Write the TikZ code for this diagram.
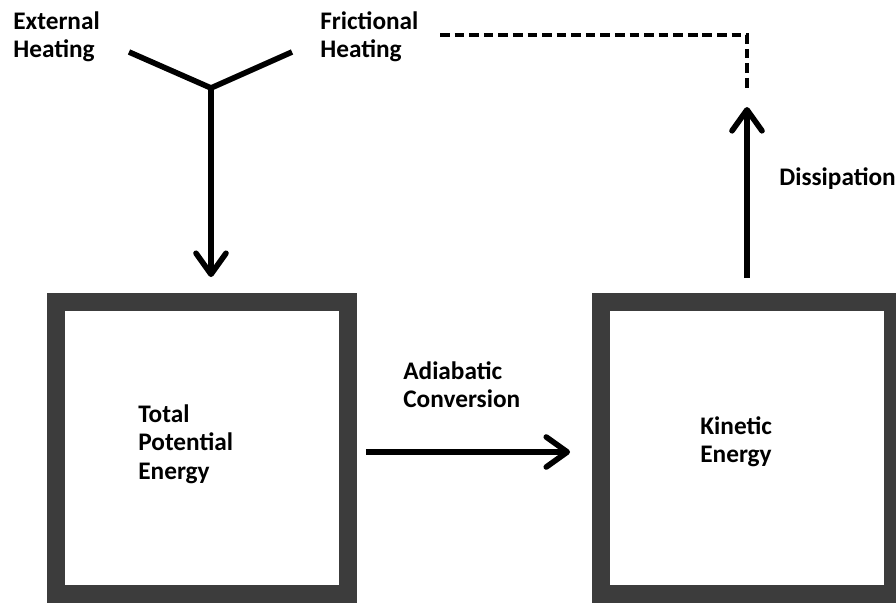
\documentclass[tikz,border=0pt]{standalone}
\usepackage{fontspec}
\setmainfont{Carlito}
\usepackage{tikz}
\usetikzlibrary{arrows.meta}
\usetikzlibrary{positioning}
\definecolor{boxgray}{HTML}{3C3C3C}
\tikzstyle{energybox} = [rectangle, draw=boxgray, fill=white, line width=10.2pt, minimum width=5.84cm, minimum height=5.84cm]
\tikzstyle{txt} = [inner sep=0pt, anchor=north west, align=left, font=\bfseries\fontsize{14.4}{16.4}\selectfont]
\tikzstyle{arrow} = [line width=3.2pt, -{Straight Barb[length=0.42cm, width=0.6cm, round]}]
\tikzstyle{dashline} = [line width=2.8pt, dash pattern=on 5.5pt off 2.8pt]

\begin{document}
\begin{tikzpicture}[x=0.02cm, y=-0.02cm]
        \useasboundingbox[fill=white] (0,0) rectangle (896,602);

        \node (tpe) [energybox] at (202,448) {};
        \node (ke) [energybox] at (747,448) {};

        \node (extheat) [txt] at (13,11) {External\\Heating};
        \node (fricheat) [txt] at (320,11) {Frictional\\Heating};
        \node (tpetext) [txt] at (138,404) {Total\\Potential\\Energy};
        \node (ketext) [txt] at (700,416) {Kinetic\\Energy};
        \node (adiab) [txt] at (403,361) {Adiabatic\\Conversion};
        \node (dissip) [txt] at (779,167) {Dissipation};

        \coordinate (extend) at (129,52);
        \coordinate (fricend) at (292,52);
        \coordinate (join) at (211,88);
        \coordinate (dashstart) at (440,35);
        \coordinate (dashcorner) at (747,35);
        \coordinate (dashend) at (747,90);
        \coordinate (disstop) at (747,107);

        \draw [line width=3.2pt, line join=miter] (extend) -- (join) -- (fricend);
        \draw [arrow, shorten >=0.32cm] (join) -- (join |- tpe.north);
        \draw [arrow, shorten <=0.18cm, shorten >=0.44cm] ([yshift=-0.08cm]tpe.east) -- ([yshift=-0.08cm]ke.west);
        \draw [arrow, shorten <=0.3cm] (ke.north) -- (disstop);
        \draw [dashline] (dashstart) -- (dashcorner) -- (dashend);

    \end{tikzpicture}
\end{document}
